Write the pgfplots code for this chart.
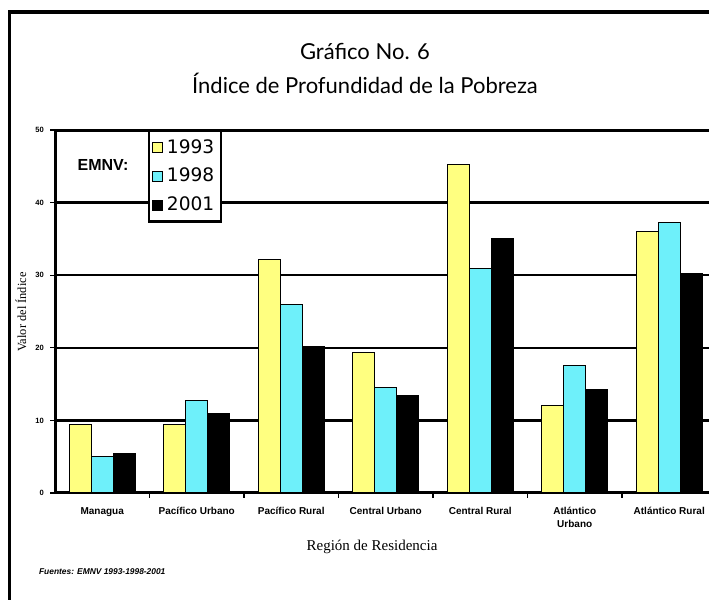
\documentclass[border=0pt]{standalone}
\usepackage{fontspec}
\setmainfont{Liberation Sans}
\newfontfamily\titlefont{Lato}
\newfontfamily\seriffont{Liberation Serif}
\newfontfamily\legendfont{DejaVu Sans}
\usepackage{pgfplots}
\pgfplotsset{compat=1.18}

\definecolor{amarillo}{RGB}{255,255,128}
\definecolor{celeste}{RGB}{110,240,250}

\pgfplotstableread{
idx y1993 y1998 y2001
0   9.5   5.0   5.4
1   9.5   12.7  10.9
2   32.2  26.0  20.2
3   19.4  14.5  13.4
4   45.3  30.9  35.0
5   12.1  17.5  14.3
6   36.0  37.3  30.2
}\datos

\begin{document}
\begin{tikzpicture}
\useasboundingbox (0,0) rectangle (354.5pt,300pt);
\clip (0,0) rectangle (354.5pt,300pt);
% marco exterior
\draw[line width=1.6pt] (4.75pt,-5pt) -- (4.75pt,294pt) -- (360pt,294pt);

% titulo
\node[font=\titlefont\fontsize{11}{12}\selectfont] at (182.5pt,274pt) {Gráfico No. 6};
\node[font=\titlefont\fontsize{11}{12}\selectfont] at (182.5pt,258.5pt) {Índice de Profundidad de la Pobreza};

\begin{axis}[
    at={(27.5pt,53.5pt)}, anchor=south west,
    scale only axis,
    width=330.75pt, height=181.5pt,
    xmin=-0.5, xmax=6.5,
    ymin=0, ymax=50,
    ybar=0pt, bar width=11pt,
    axis line style={line width=1.5pt},
    ytick={0,10,...,50},
    ymajorgrids,
    grid style={black, line width=1.2pt},
    tick align=outside,
    xtick pos=bottom, ytick pos=left,
    major tick length=2.5pt,
    tick style={black, line width=0.6pt},
    yticklabel style={font=\bfseries\fontsize{3.8}{4}\selectfont, xshift=0.5pt},
    /pgf/number format/assume math mode=true,
    xtick={0.5,1.5,...,5.5},
    xticklabels={},
    extra x ticks={0,1,2,3,4,5,6},
    extra x tick labels={Managua\strut, Pacífico Urbano\strut, Pacífico Rural\strut, Central Urbano\strut, Central Rural\strut, \strut Atlántico\\Urbano, Atlántico Rural\strut},
    extra x tick style={major tick length=0pt, grid=none,
        tick label style={font=\bfseries\fontsize{5}{6.5}\selectfont, align=center, yshift=-2.5pt}},
    legend style={at={(0.1405,1)}, anchor=north west, draw=black, line width=1.2pt,
        font=\legendfont\fontsize{9.3}{10}\selectfont, row sep=2pt, inner xsep=1.5pt, inner ysep=2pt,
        /tikz/every even column/.append style={column sep=1pt}},
    legend cell align=left,
    legend image code/.code={\draw[#1, line width=0.6pt] (0pt,-2.4pt) rectangle (4.8pt,2.4pt);},
]
\addplot[draw=black, line width=0.5pt, fill=amarillo] table[x=idx, y=y1993] {\datos};
\addlegendentry{1993}
\addplot[draw=black, line width=0.5pt, fill=celeste] table[x=idx, y=y1998] {\datos};
\addlegendentry{1998}
\addplot[draw=black, line width=0.5pt, fill=black] table[x=idx, y=y2001] {\datos};
\addlegendentry{2001}
\end{axis}

\node[font=\bfseries\fontsize{8}{9}\selectfont] at (51.5pt,217.5pt) {EMNV:};
\node[font=\seriffont\fontsize{7.5}{8}\selectfont] at (186pt,26.5pt) {Región de Residencia};
\node[font=\seriffont\fontsize{6.2}{7}\selectfont, rotate=90] at (10.5pt,144pt) {Valor del Índice};
\node[font=\bfseries\itshape\fontsize{4.2}{5}\selectfont, anchor=west] at (16pt,14pt) {Fuentes: EMNV 1993-1998-2001};
\end{tikzpicture}
\end{document}
